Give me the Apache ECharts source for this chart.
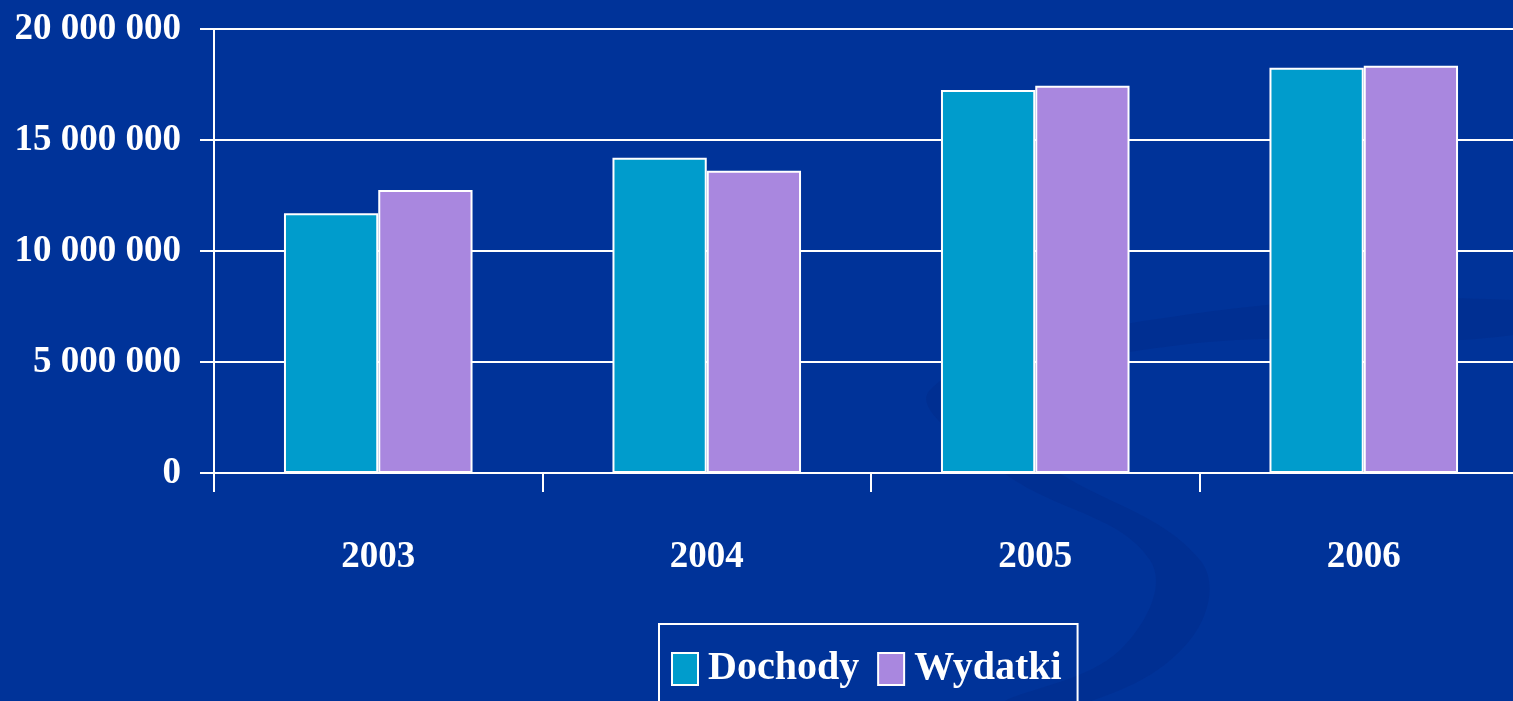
<!DOCTYPE html>
<html>
<head>
<meta charset="utf-8">
<script src="https://cdn.jsdelivr.net/npm/echarts@6/dist/echarts.min.js"></script>
<style>
html,body{margin:0;padding:0;background:#003399;}
#chart{width:1513px;height:701px;}
</style>
</head>
<body>
<div id="chart"></div>
<script>
// dane z wykresu
const years = ["2003", "2004", "2005", "2006"]
const dochody = [11700000, 14200000, 17250000, 18250000]
const wydatki = [12750000, 13620000, 17440000, 18350000]
const yTicks = [0, 5000000, 10000000, 15000000, 20000000]

const font = "'Liberation Serif', 'Times New Roman', serif"

function fmt(v){
  return String(v).replace(/\B(?=(\d{3})+(?!\d))/g, " ")
}

let myChart = echarts.init(document.getElementById("chart"))
myChart.setOption({
  backgroundColor: "#003399",
  animation: false,
  graphic: [
    {
      // lekki zawijas w tle
      type: "polygon",
      silent: true,
      z: 0,
      shape: {
        smooth: 0.4,
        points: [[1513, 300], [1150, 320], [930, 390], [1000, 470], [1150, 560], [1120, 650], [1000, 705],
                 [1080, 705], [1190, 640], [1200, 560], [1040, 460], [985, 400], [1180, 345], [1513, 335]]
      },
      style: { fill: "rgba(0,30,110,0.15)" }
    }
  ],
  grid: {
    left: 214,
    top: 29,
    width: 1314,
    height: 444,
    outerBoundsMode: "none"
  },
  legend: {
    left: 659,
    top: 624,
    borderColor: "#fff",
    borderWidth: 2,
    padding: [25, 16, 40, 12],
    itemWidth: 26,
    itemHeight: 32,
    itemGap: 18,
    icon: "rect",
    textStyle: {
      color: "#fff",
      fontFamily: font,
      fontWeight: "bold",
      fontSize: 40,
      padding: [0, 0, 0, 5]
    },
    data: ["Dochody", "Wydatki"]
  },
  xAxis: {
    type: "category",
    data: years,
    axisLine: { lineStyle: { color: "#fff", width: 2 } },
    axisTick: { show: true, length: 19, lineStyle: { color: "#fff", width: 2 } },
    axisLabel: {
      color: "#fff",
      fontFamily: font,
      fontWeight: "bold",
      fontSize: 37,
      margin: 66
    }
  },
  yAxis: {
    type: "value",
    min: 0,
    max: 20000000,
    interval: 5000000,
    axisLine: { show: true, lineStyle: { color: "#fff", width: 2 } },
    axisTick: { show: true, inside: false, length: 14, lineStyle: { color: "#fff", width: 2 } },
    splitLine: { show: true, lineStyle: { color: "#fff", width: 2 } },
    axisLabel: {
      color: "#fff",
      fontFamily: font,
      fontWeight: "bold",
      fontSize: 37,
      margin: 33,
      padding: [6, 0, 0, 0],
      formatter: function(v){ return yTicks.indexOf(v) >= 0 ? fmt(v) : "" }
    }
  },
  series: [
    {
      name: "Dochody",
      type: "bar",
      data: dochody,
      barWidth: "28.7%",
      barGap: "0%",
      itemStyle: { color: "#009ccc", borderColor: "#fff", borderWidth: 2 }
    },
    {
      name: "Wydatki",
      type: "bar",
      data: wydatki,
      barWidth: "28.7%",
      barGap: "0%",
      itemStyle: { color: "#a987df", borderColor: "#fff", borderWidth: 2 }
    }
  ]
})
</script>
</body>
</html>
